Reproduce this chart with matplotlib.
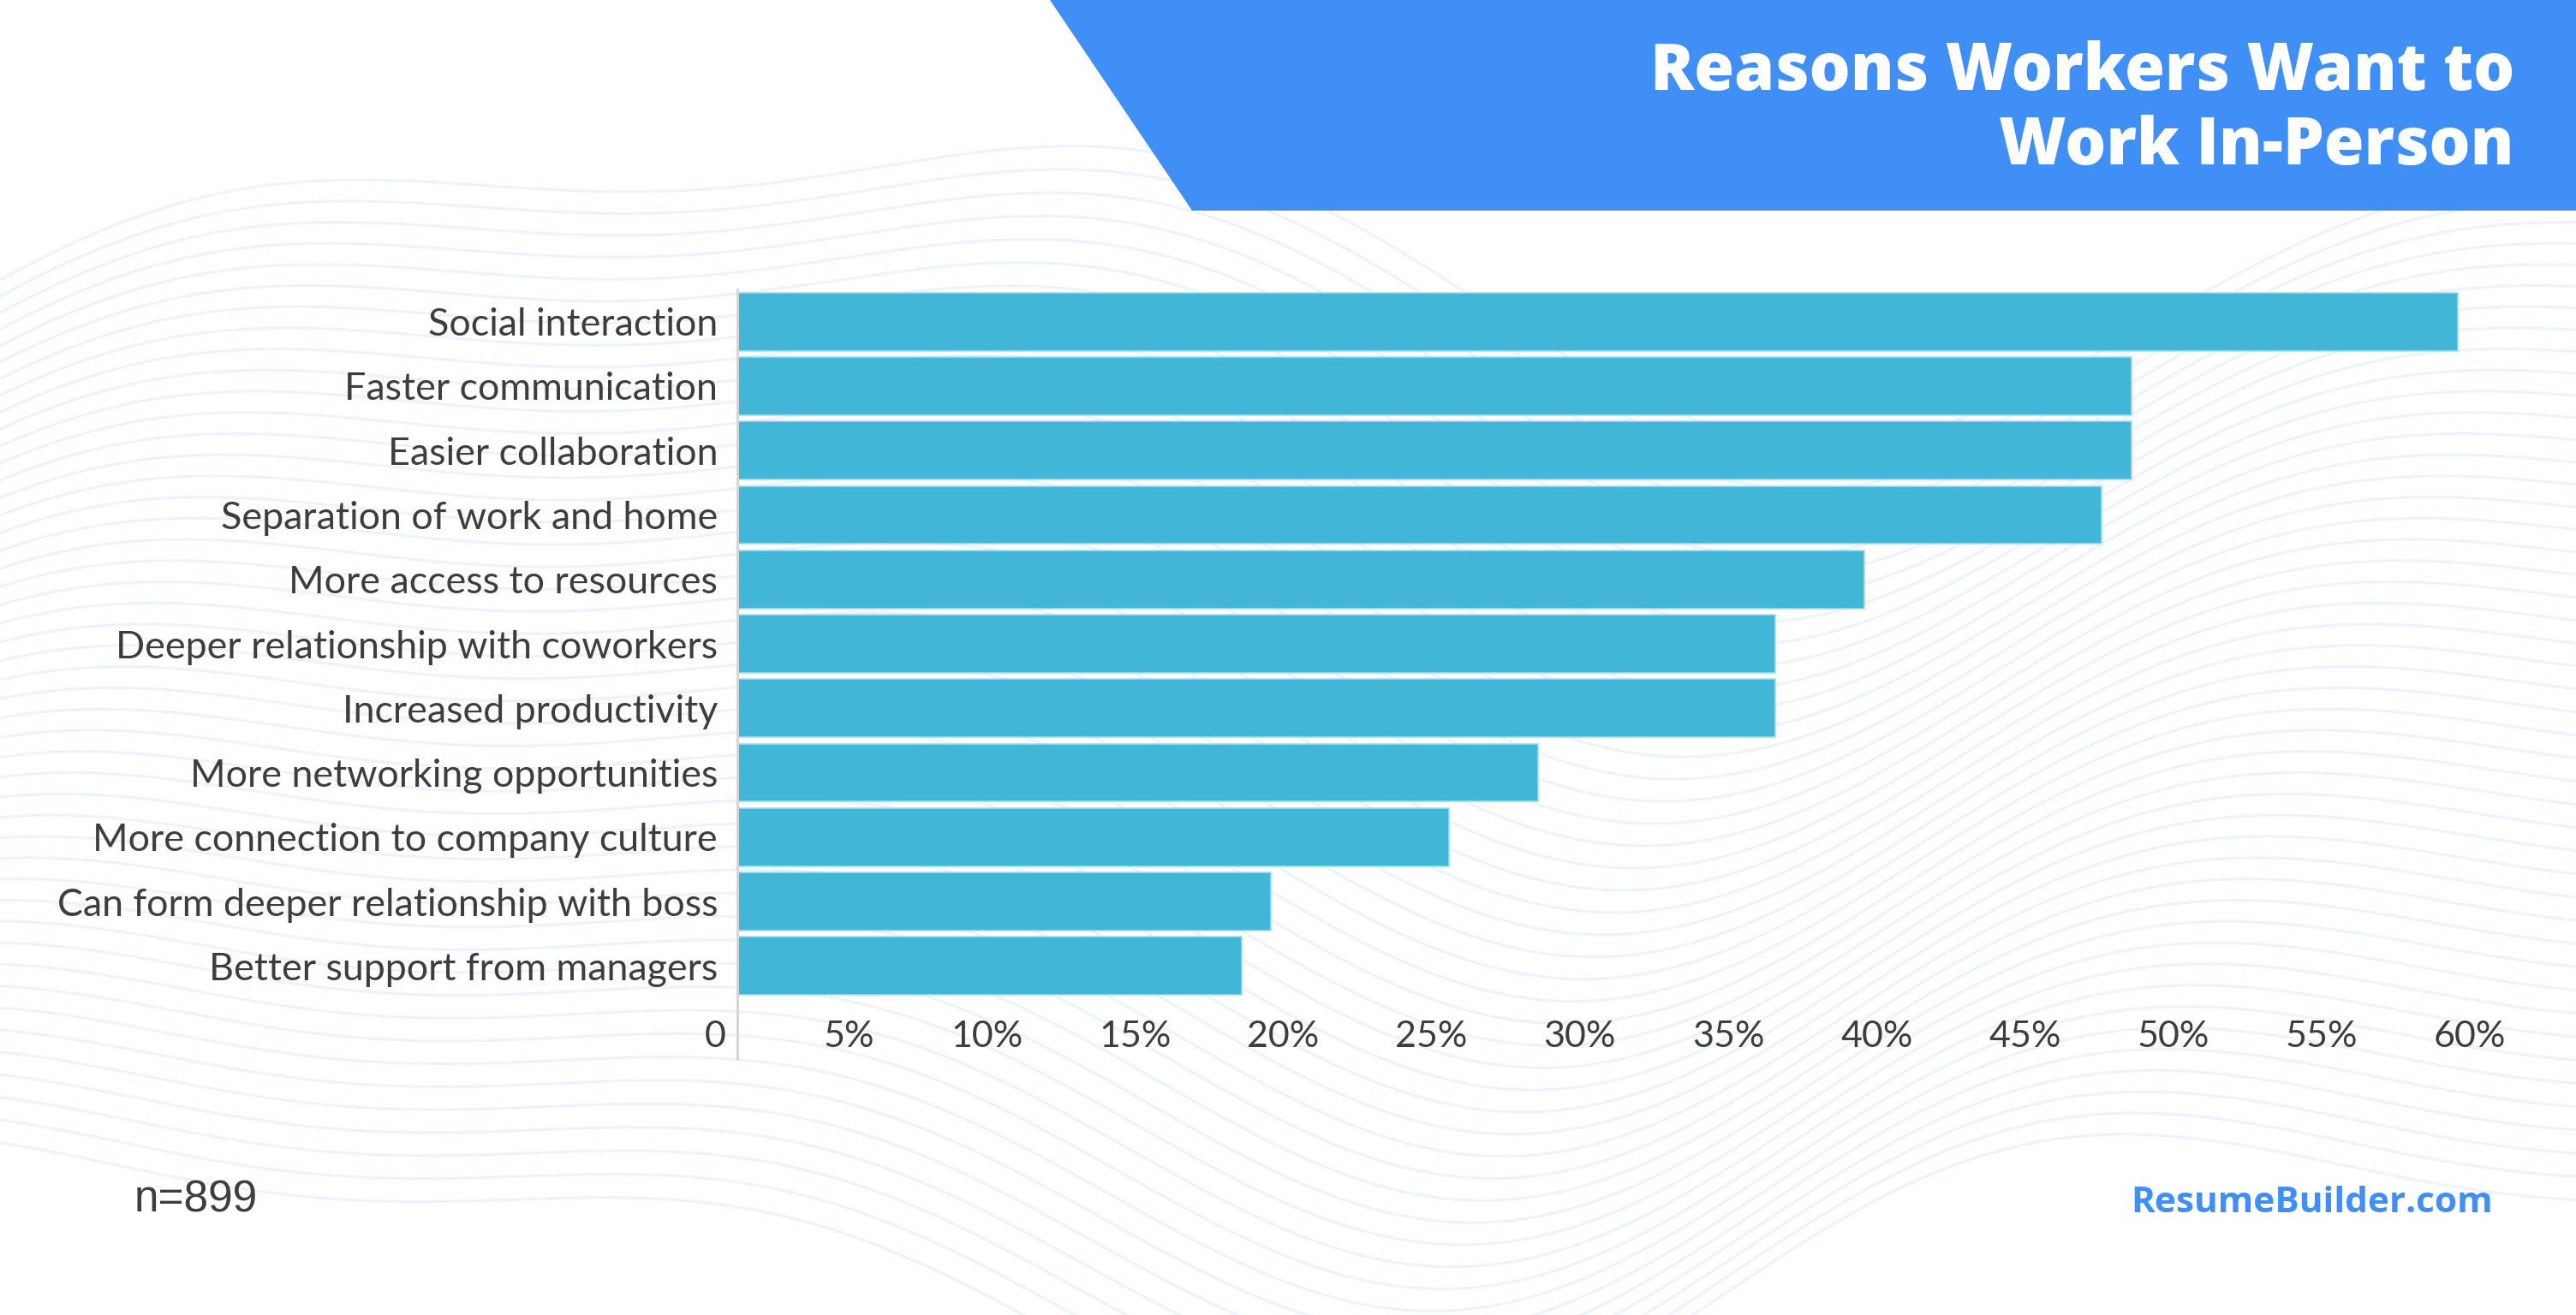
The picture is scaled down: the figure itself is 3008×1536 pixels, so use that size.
import numpy as np
import matplotlib
matplotlib.use("Agg")
import matplotlib.pyplot as plt
from matplotlib.patches import Polygon
from matplotlib.transforms import ScaledTranslation

# ---- data ----
categories = [
    "Social interaction",
    "Faster communication",
    "Easier collaboration",
    "Separation of work and home",
    "More access to resources",
    "Deeper relationship with coworkers",
    "Increased productivity",
    "More networking opportunities",
    "More connection to company culture",
    "Can form deeper relationship with boss",
    "Better support from managers",
]
values = [58, 47, 47, 46, 38, 35, 35, 27, 24, 18, 17]
x_ticks = [0, 5, 10, 15, 20, 25, 30, 35, 40, 45, 50, 55, 60]
x_tick_labels = ["0", "5%", "10%", "15%", "20%", "25%", "30%", "35%", "40%",
                 "45%", "50%", "55%", "60%"]
title_lines = ["Reasons Workers Want to", "Work In-Person"]
note_text = "n=899"
brand_text = "ResumeBuilder.com"

W, H = 3008, 1536
DPI = 100
fig = plt.figure(figsize=(W / DPI, H / DPI), dpi=DPI)
fig.patch.set_facecolor("white")

# ---- background layer (pixel coordinates) ----
bg = fig.add_axes([0, 0, 1, 1], zorder=0)
bg.set_xlim(0, W)
bg.set_ylim(H, 0)
bg.axis("off")

xs = np.linspace(0, W, 600)
for i in range(46):
    base = 300 + i * 26
    y = (base
         + 150 * np.sin(2 * np.pi * xs / 2600 + 2.6 + i * 0.035)
         - 70 * np.sin(2 * np.pi * xs / 1300 + 0.8 + i * 0.05))
    bg.plot(xs, y, color="#EAF2FD", lw=2.2, alpha=0.9, zorder=0)

banner = Polygon([(1226, 0), (W, 0), (W, 246), (1392, 246)], closed=True,
                 facecolor="#3F8FF6", edgecolor="none", zorder=2)
bg.add_patch(banner)

title_kw = dict(ha="right", va="baseline", color="white", fontsize=54.5,
                fontweight="heavy", family="Open Sans", zorder=3)
bg.text(2936, 105, title_lines[0], **title_kw)
bg.text(2936, 192, title_lines[1], **title_kw)

bg.text(157, 1416, note_text, ha="left", va="baseline", color="#3d3d3d",
        fontsize=37, family="Liberation Sans", zorder=3)
bg.text(2911, 1416, brand_text, ha="right", va="baseline", color="#3F8FF6",
        fontsize=30.5, fontweight="bold", family="Open Sans", zorder=3)

# ---- main chart ----
left_px, right_px = 861, 2939
top_px, bottom_px = 338, 1166
ax = fig.add_axes([left_px / W, 1 - bottom_px / H,
                   (right_px - left_px) / W, (bottom_px - top_px) / H], zorder=1)
ax.set_facecolor("none")

ypos = np.arange(len(categories))
ax.barh(ypos, values, height=0.9, color="#42B6D6", edgecolor="#A4DCEE",
        linewidth=1.2, zorder=2)
ax.set_xlim(0, 60)
ax.set_ylim(len(categories) - 0.5, -0.5)

for s in ax.spines.values():
    s.set_visible(False)
ax.plot([0, 0], [1, -0.086], transform=ax.transAxes, color="#D6D6D6",
        lw=2.2, clip_on=False, zorder=3)

ax.set_yticks(ypos)
ax.set_yticklabels(categories, fontsize=32.2, color="#3d3d3d", family="Lato")
ax.tick_params(axis="y", length=0, pad=16.5)

ax.set_xticks(x_ticks)
ax.set_xticklabels(x_tick_labels, fontsize=31, color="#3d3d3d", family="Lato")
ax.tick_params(axis="x", length=0, pad=41)
shift = ScaledTranslation(-13 / DPI, 0, fig.dpi_scale_trans)
for lab in ax.get_xticklabels():
    lab.set_horizontalalignment("right")
    lab.set_verticalalignment("baseline")
    lab.set_transform(lab.get_transform() + shift)

fig.savefig("out.png", dpi=DPI, facecolor="white")
